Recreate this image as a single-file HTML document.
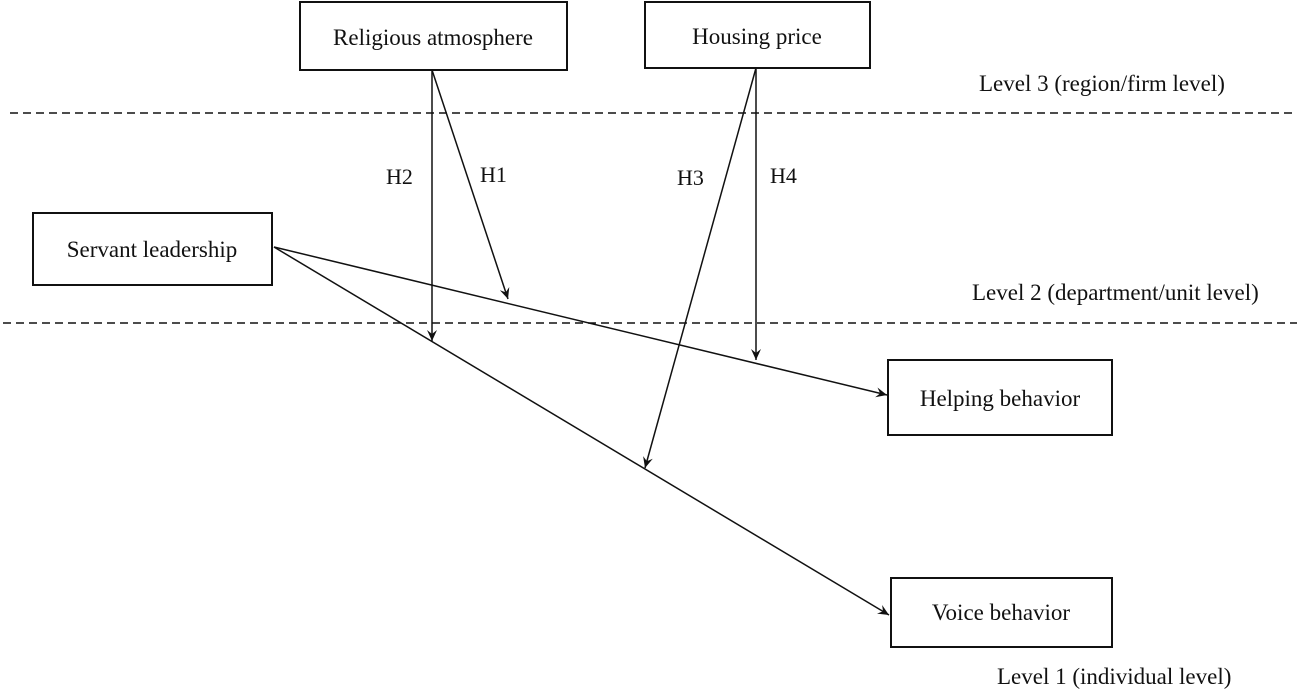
<!DOCTYPE html>
<html><head><meta charset="utf-8"><style>
html,body{margin:0;padding:0;background:#fff;}
svg{display:block;}
text{font-family:"Liberation Serif",serif;font-size:23px;fill:#111;}
.h{font-size:22px;}
</style></head><body>
<svg width="1300" height="692" viewBox="0 0 1300 692" xmlns="http://www.w3.org/2000/svg">
<defs>
<marker id="a" viewBox="0 0 12 10" refX="11" refY="5" markerWidth="12" markerHeight="10" markerUnits="userSpaceOnUse" orient="auto">
<path d="M0,0 L11,5 L0,10 L4,5 Z" fill="#111"/>
</marker>
</defs>
<g stroke="#111" stroke-width="1.5" fill="none">
<line x1="10" y1="113" x2="1297" y2="113" stroke-dasharray="8,5"/>
<line x1="3" y1="323" x2="1297" y2="323" stroke-dasharray="8,5"/>
<rect x="300" y="2" width="267" height="68" stroke-width="2"/>
<rect x="645" y="2" width="225" height="66" stroke-width="2"/>
<rect x="33" y="213" width="239" height="72" stroke-width="2"/>
<rect x="888" y="360" width="224" height="75" stroke-width="2"/>
<rect x="891" y="578" width="221" height="69" stroke-width="2"/>
<line x1="274" y1="247" x2="887" y2="395" marker-end="url(#a)"/>
<line x1="274" y1="247" x2="889" y2="615" marker-end="url(#a)"/>
<line x1="432" y1="70" x2="432" y2="341" marker-end="url(#a)"/>
<line x1="432" y1="70" x2="508" y2="299" marker-end="url(#a)"/>
<line x1="756" y1="68" x2="756" y2="360" marker-end="url(#a)"/>
<line x1="756" y1="68" x2="645" y2="468" marker-end="url(#a)"/>
</g>
<text x="433" y="45" text-anchor="middle">Religious atmosphere</text>
<text x="757" y="44" text-anchor="middle">Housing price</text>
<text x="152" y="257" text-anchor="middle">Servant leadership</text>
<text x="1000" y="406" text-anchor="middle">Helping behavior</text>
<text x="1001" y="620" text-anchor="middle">Voice behavior</text>
<text class="h" x="386" y="184">H2</text>
<text class="h" x="480" y="182">H1</text>
<text class="h" x="677" y="185">H3</text>
<text class="h" x="770" y="183">H4</text>
<text x="979" y="91">Level 3 (region/firm level)</text>
<text x="972" y="300">Level 2 (department/unit level)</text>
<text x="997" y="684">Level 1 (individual level)</text>
</svg>
</body></html>
